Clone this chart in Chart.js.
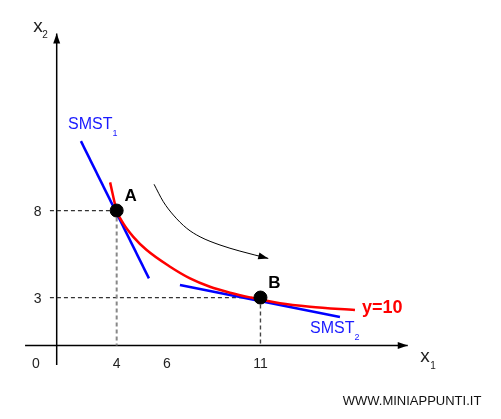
<!DOCTYPE html>
<html>
<head>
<meta charset="utf-8">
<script src="https://cdn.jsdelivr.net/npm/chart.js"></script>
<style>
html, body { margin: 0; padding: 0; background: #fff; }
#wrap { width: 501px; height: 419px; }
</style>
</head>
<body>
<div id="wrap"><canvas id="chart" width="501" height="419"></canvas></div>
<script>
// Isoquant y=10
const isoX = [3.68, 4, 4.32, 4.81, 5.46, 6.60, 7.57, 8.54, 9.52, 10.49, 11.95, 13.41, 15.6];
const isoY = [9.62, 8, 7.26, 6.49, 5.73, 4.77, 4.10, 3.62, 3.28, 3.01, 2.67, 2.47, 2.28];

// Tangent lines SMST1 / SMST2
const smst1X = [2.26, 5.57];
const smst1Y = [11.99, 4.10];
const smst2X = [7.08, 14.87];
const smst2Y = [3.72, 1.88];

// Points A and B
const pointNames = ['A', 'B'];
const pointX = [4, 11];
const pointY = [8, 3];

// Curved arrow from A towards B
const arcX = [5.82, 6.27, 6.76, 7.41, 8.06, 9.03, 10.0, 11.38];
const arcY = [9.51, 8.51, 7.74, 6.98, 6.49, 6.02, 5.67, 5.25];

// Axes
const xAxisX = [-0.46, 18.17];
const xAxisY = [0.24, 0.24];
const yAxisX = [1.08, 1.08];
const yAxisY = [-0.88, 18.18];

// Tick labels
const xTickPos = [0.07, 4, 6.45, 11];
const xTickText = ['0', '4', '6', '11'];
const yTickPos = [8, 3];
const yTickText = ['8', '3'];

const FONT = '"Liberation Sans", Arial, sans-serif';

function zip(xs, ys) {
    return xs.map((x, i) => ({ x: x, y: ys[i] }));
}

function lineSet(xs, ys, color, width, extra) {
    return Object.assign({
        data: zip(xs, ys),
        showLine: true,
        borderColor: color,
        borderWidth: width,
        pointRadius: 0,
        pointHoverRadius: 0,
        fill: false
    }, extra || {});
}

// arrowhead at the last point of a dataset, pointing along the last segment
function drawArrowHead(ctx, chart, xs, ys, len, half) {
    const sx = chart.scales.x, sy = chart.scales.y;
    const n = xs.length;
    const x1 = sx.getPixelForValue(xs[n - 2]), y1 = sy.getPixelForValue(ys[n - 2]);
    const x2 = sx.getPixelForValue(xs[n - 1]), y2 = sy.getPixelForValue(ys[n - 1]);
    const a = Math.atan2(y2 - y1, x2 - x1);
    ctx.save();
    ctx.fillStyle = '#000';
    ctx.beginPath();
    ctx.moveTo(x2, y2);
    ctx.lineTo(x2 - len * Math.cos(a) + half * Math.sin(a), y2 - len * Math.sin(a) - half * Math.cos(a));
    ctx.lineTo(x2 - len * Math.cos(a) - half * Math.sin(a), y2 - len * Math.sin(a) + half * Math.cos(a));
    ctx.closePath();
    ctx.fill();
    ctx.restore();
}

function text(ctx, str, x, y, size, color, bold, align) {
    ctx.font = (bold ? 'bold ' : '') + size + 'px ' + FONT;
    ctx.fillStyle = color;
    ctx.textAlign = align || 'center';
    ctx.textBaseline = 'middle';
    ctx.fillText(str, x, y);
}

const annotations = {
    id: 'annotations',
    afterDatasetsDraw(chart) {
        const ctx = chart.ctx;
        const sx = chart.scales.x, sy = chart.scales.y;

        drawArrowHead(ctx, chart, xAxisX, xAxisY, 10, 3.5);
        drawArrowHead(ctx, chart, yAxisX, yAxisY, 10, 3.5);
        drawArrowHead(ctx, chart, arcX, arcY, 10, 3.5);

        const axisPx = sy.getPixelForValue(xAxisY[0]);
        const yAxisPx = sx.getPixelForValue(yAxisX[0]);

        // tick labels
        xTickPos.forEach((p, i) => text(ctx, xTickText[i], sx.getPixelForValue(p), axisPx + 19, 14, '#222'));
        yTickPos.forEach((p, i) => text(ctx, yTickText[i], yAxisPx - 19, sy.getPixelForValue(p) + 2, 14, '#222'));

        // axis titles
        text(ctx, 'x', 38, 27, 19, '#222');
        text(ctx, '2', 45, 35, 10, '#222');
        text(ctx, 'x', 425, 357, 19, '#222');
        text(ctx, '1', 433, 366, 10, '#222');

        // point names
        pointNames.forEach((name, i) => {
            const px = sx.getPixelForValue(pointX[i]);
            const py = sy.getPixelForValue(pointY[i]);
            text(ctx, name, px + 14, py - 14, 17, '#000', true);
        });

        // line labels
        text(ctx, 'SMST', 68, 125, 16, '#1a1aff', false, 'left');
        text(ctx, '1', 115, 134, 9, '#1a1aff');
        text(ctx, 'SMST', 310, 329, 16, '#1a1aff', false, 'left');
        text(ctx, '2', 357, 338, 9, '#1a1aff');
        text(ctx, 'y=10', 362, 308, 18, '#ff0000', true, 'left');

        text(ctx, 'WWW.MINIAPPUNTI.IT', 412, 401, 13, '#111');
    }
};

new Chart(document.getElementById('chart'), {
    type: 'scatter',
    data: {
        datasets: [
            {
                data: zip(pointX, pointY),
                pointRadius: 6.5,
                pointHoverRadius: 6.5,
                pointBackgroundColor: '#000',
                pointBorderColor: '#000',
                showLine: false
            },
            lineSet(isoX, isoY, '#ff0000', 2.5, { cubicInterpolationMode: 'monotone' }),
            lineSet(smst1X, smst1Y, '#0000ff', 2.5),
            lineSet(smst2X, smst2Y, '#0000ff', 2.5),
            lineSet(arcX, arcY, '#000', 1, { cubicInterpolationMode: 'monotone' }),
            lineSet([0.75, pointX[0]], [pointY[0], pointY[0]], '#333', 1.2, { borderDash: [4, 3] }),
            lineSet([pointX[0], pointX[0]], [pointY[0], xAxisY[0]], '#888', 2, { borderDash: [4, 3] }),
            lineSet([0.75, pointX[1]], [pointY[1], pointY[1]], '#333', 1.2, { borderDash: [4, 3] }),
            lineSet([pointX[1], pointX[1]], [pointY[1], xAxisY[0]], '#444', 1.4, { borderDash: [4, 3] }),
            lineSet(xAxisX, xAxisY, '#000', 1.5),
            lineSet(yAxisX, yAxisY, '#000', 1.5)
        ]
    },
    options: {
        responsive: false,
        animation: false,
        events: [],
        layout: { padding: 0, autoPadding: false },
        plugins: {
            legend: { display: false },
            tooltip: { enabled: false }
        },
        scales: {
            x: { type: 'linear', display: false, min: -1.68, max: 22.71 },
            y: { type: 'linear', display: false, min: -3.98, max: 20.10 }
        }
    },
    plugins: [annotations]
});
</script>
</body>
</html>
